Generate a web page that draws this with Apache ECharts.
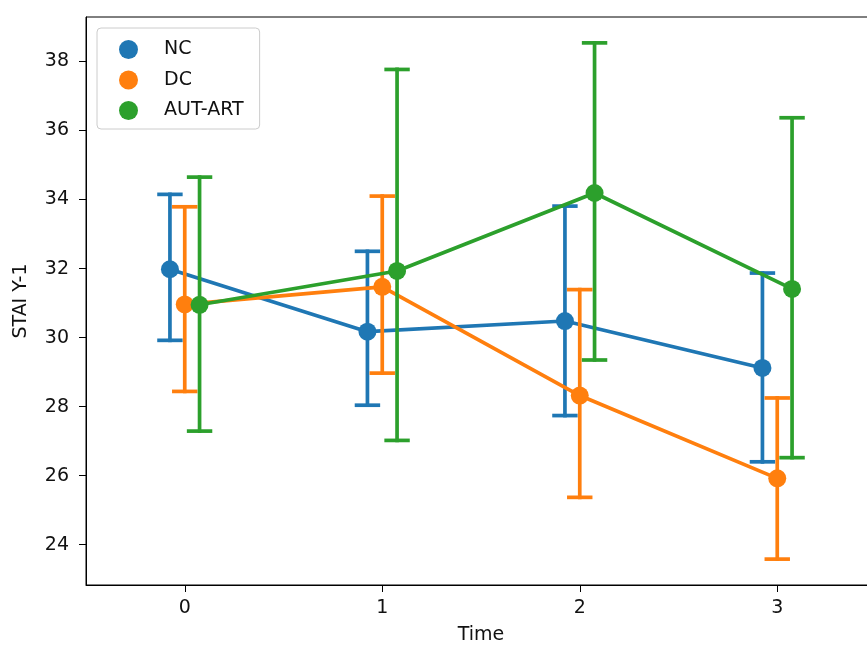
<!DOCTYPE html>
<html>
<head>
<meta charset="utf-8">
<script src="https://cdn.jsdelivr.net/npm/echarts@6/dist/echarts.min.js"></script>
<style>
  html, body { margin: 0; padding: 0; background: #fff; overflow: hidden; width: 867px; height: 650px; }
  #chart { width: 880px; height: 650px; }
</style>
</head>
<body>
<div id="chart"></div>
<script>
// Time points and tick labels
const timePoints = [0, 1, 2, 3];
const xTicks = [0, 1, 2, 3];
const yTicks = [24, 26, 28, 30, 32, 34, 36, 38];

// Group names
const groups = ['NC', 'DC', 'AUT-ART'];

// Group means per time point
const ncMean  = [31.98, 30.17, 30.48, 29.12];
const dcMean  = [30.96, 31.47, 28.32, 25.92];
const autMean = [30.95, 31.93, 34.19, 31.41];

// Confidence interval bounds per time point
const ncLow   = [29.92, 28.04, 27.74, 26.40];
const ncHigh  = [34.15, 32.50, 33.81, 31.87];
const dcLow   = [28.44, 28.97, 25.37, 23.58];
const dcHigh  = [33.79, 34.10, 31.39, 28.25];
const autLow  = [27.29, 27.02, 29.35, 26.52];
const autHigh = [34.65, 37.77, 38.54, 36.37];

// Presentation settings
const colors = ['#1f77b4', '#ff7f0e', '#2ca02c'];
const hueOffsets = [-0.075, 0, 0.075];   // dodge per group along the x axis
const capHalf = 0.055;                   // half width of error-bar caps, in x units
const lineW = 3.7;
const font = 'DejaVu Sans';
const textColor = '#111';

const means = [ncMean, dcMean, autMean];
const lows = [ncLow, dcLow, autLow];
const highs = [ncHigh, dcHigh, autHigh];

const series = [];
groups.forEach((name, g) => {
  const off = hueOffsets[g];
  // error bars with caps
  series.push({
    name: name,
    type: 'custom',
    z: 2 + g,
    silent: true,
    data: timePoints.map((t, i) => [t + off, lows[g][i], highs[g][i]]),
    renderItem: function (params, api) {
      const x = api.value(0), lo = api.value(1), hi = api.value(2);
      const a = api.coord([x, lo]);
      const b = api.coord([x, hi]);
      const l1 = api.coord([x - capHalf, lo]), r1 = api.coord([x + capHalf, lo]);
      const l2 = api.coord([x - capHalf, hi]), r2 = api.coord([x + capHalf, hi]);
      const style = { stroke: colors[g], lineWidth: lineW, lineCap: 'square', fill: null };
      return {
        type: 'group',
        children: [
          { type: 'line', shape: { x1: a[0], y1: a[1], x2: b[0], y2: b[1] }, style: style },
          { type: 'line', shape: { x1: l1[0], y1: l1[1], x2: r1[0], y2: r1[1] }, style: style },
          { type: 'line', shape: { x1: l2[0], y1: l2[1], x2: r2[0], y2: r2[1] }, style: style }
        ]
      };
    }
  });
  // joined means with point markers
  series.push({
    name: name,
    type: 'line',
    z: 2 + g,
    silent: true,
    data: timePoints.map((t, i) => [t + off, means[g][i]]),
    symbol: 'circle',
    symbolSize: 18,
    showSymbol: true,
    lineStyle: { color: colors[g], width: lineW },
    itemStyle: { color: colors[g], borderWidth: 0 },
    emphasis: { disabled: true }
  });
});

const chart = echarts.init(document.getElementById('chart'), null, { renderer: 'canvas' });
chart.setOption({
  animation: false,
  backgroundColor: '#fff',
  color: colors,
  textStyle: { fontFamily: font },
  grid: {
    left: 86, top: 17, right: 4, bottom: 61,
    show: true, borderColor: '#000', borderWidth: 1, backgroundColor: 'transparent'
  },
  legend: {
    data: groups,
    left: 97,
    top: 28,
    orient: 'vertical',
    icon: 'circle',
    itemWidth: 19,
    itemHeight: 19,
    itemGap: 11.5,
    padding: [12, 16, 9, 22],
    backgroundColor: '#fff',
    borderColor: '#cccccc',
    borderWidth: 1,
    borderRadius: 4,
    selectedMode: false,
    textStyle: { fontFamily: font, fontSize: 19, color: textColor, padding: [0, 0, 0, 21], lineHeight: 19 }
  },
  xAxis: {
    type: 'value',
    min: -0.5,
    max: 3.5,
    name: 'Time',
    nameLocation: 'middle',
    nameGap: 41,
    nameTextStyle: { fontFamily: font, fontSize: 19, color: textColor },
    axisLine: { show: true, onZero: false, lineStyle: { color: '#000', width: 1 } },
    axisTick: { show: true, length: 7, customValues: xTicks, lineStyle: { color: '#000', width: 1 } },
    axisLabel: { customValues: xTicks, fontFamily: font, fontSize: 19, color: textColor, margin: 14 },
    splitLine: { show: false }
  },
  yAxis: {
    type: 'value',
    min: 22.83,
    max: 39.29,
    name: 'STAI Y-1',
    nameLocation: 'middle',
    nameGap: 55,
    nameTextStyle: { fontFamily: font, fontSize: 19, color: textColor },
    axisLine: { show: true, onZero: false, lineStyle: { color: '#000', width: 1 } },
    axisTick: { show: true, length: 7, customValues: yTicks, lineStyle: { color: '#000', width: 1 } },
    axisLabel: { customValues: yTicks, fontFamily: font, fontSize: 19, color: textColor, margin: 17 },
    splitLine: { show: false }
  },
  series: series
});
</script>
</body>
</html>
